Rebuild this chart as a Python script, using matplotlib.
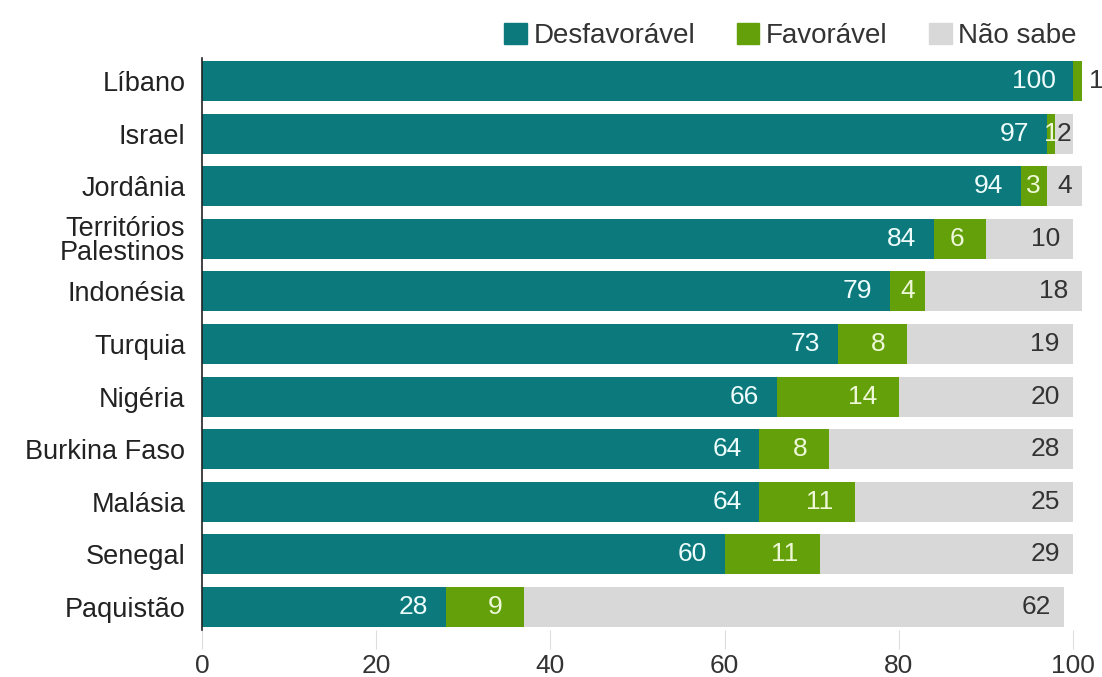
import matplotlib.pyplot as plt
import numpy as np

plt.rcParams['font.family'] = ['Liberation Sans', 'DejaVu Sans']

countries = ['Líbano', 'Israel', 'Jordânia', 'Territórios\nPalestinos', 'Indonésia',
             'Turquia', 'Nigéria', 'Burkina Faso', 'Malásia', 'Senegal', 'Paquistão']
desfavoravel = [100, 97, 94, 84, 79, 73, 66, 64, 64, 60, 28]
favoravel = [1, 1, 3, 6, 4, 8, 14, 8, 11, 11, 9]
nao_sabe = [0, 2, 4, 10, 18, 19, 20, 28, 25, 29, 62]

teal = '#0c7a7c'
green = '#63a00a'
gray = '#d8d8d8'

fig = plt.figure(figsize=(11.02, 6.77), dpi=100)
ax = fig.add_axes([0.1833, 0.0694, 0.8140, 0.8449])

y = np.arange(len(countries))
d = np.array(desfavoravel)
f = np.array(favoravel)
n = np.array(nao_sabe)

ax.barh(y, d, height=0.76, color=teal)
ax.barh(y, f, left=d, height=0.76, color=green)
ax.barh(y, n, left=d + f, height=0.76, color=gray)

fs = 19
for i in range(len(y)):
    # desfavoravel label, right aligned inside bar
    ax.text(d[i] - 2, y[i], str(d[i]), color='#eefcfc', ha='right', va='center', fontsize=fs)
    # favoravel label
    end_f = d[i] + f[i]
    if n[i] == 0:
        ax.text(end_f + 0.8, y[i], str(f[i]), color='#333333', ha='left', va='center', fontsize=fs)
    elif f[i] >= 6:
        ax.text(end_f - 2.5, y[i], str(f[i]), color='#eef8d8', ha='right', va='center', fontsize=fs)
    else:
        ax.text(d[i] + f[i] / 2, y[i], str(f[i]), color='#eef8d8', ha='center', va='center', fontsize=fs)
    # nao sabe label
    if n[i] >= 10:
        ax.text(end_f + n[i] - 1.5, y[i], str(n[i]), color='#333333', ha='right', va='center', fontsize=fs)
    elif n[i] > 0:
        ax.text(end_f + n[i] / 2, y[i], str(n[i]), color='#333333', ha='center', va='center', fontsize=fs)

ax.set_xlim(0, 103)
ax.set_ylim(10.44, -0.44)
ax.set_yticks(y)
ax.set_yticklabels(countries, fontsize=19.5, color='#222222', linespacing=0.9)
ax.set_xticks([0, 20, 40, 60, 80, 100])
ax.tick_params(axis='y', length=0, pad=12)
ax.tick_params(axis='x', length=14, color='#dddddd', labelsize=19, labelcolor='#333333', pad=3)
for s in ['top', 'right', 'bottom']:
    ax.spines[s].set_visible(False)
ax.spines['left'].set_color('#222222')
ax.spines['left'].set_linewidth(1.2)

# legend
handles = [plt.Rectangle((0, 0), 1, 1, color=c) for c in [teal, green, gray]]
fig.legend(handles, ['Desfavorável', 'Favorável', 'Não sabe'], loc='upper right',
           bbox_to_anchor=(1.0, 1.003), ncol=3, frameon=False, fontsize=20,
           handlelength=0.8, handleheight=0.8, handletextpad=0.25, columnspacing=1.5,
           labelcolor='#333333')

fig.savefig('out.png', dpi=100)
